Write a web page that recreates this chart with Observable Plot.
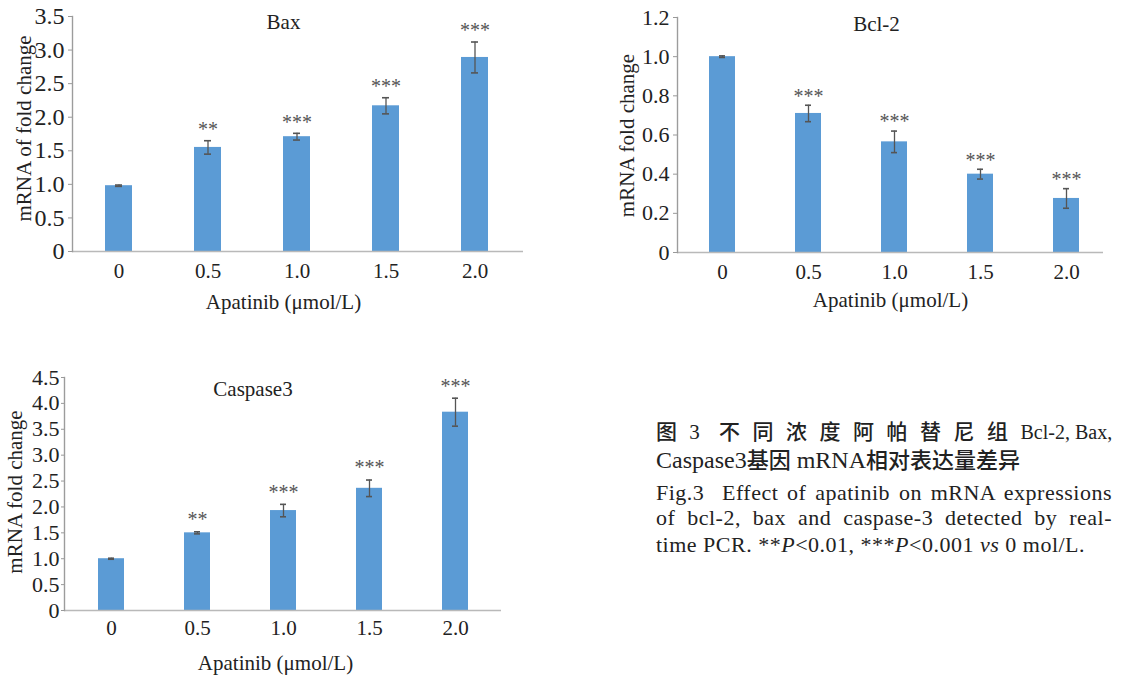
<!DOCTYPE html>
<html>
<head>
<meta charset="utf-8">
<script src="https://cdn.jsdelivr.net/npm/d3@7"></script>
<script src="https://cdn.jsdelivr.net/npm/@observablehq/plot@0.6"></script>
<style>
html, body { margin: 0; padding: 0; background: #fff; }
body { width: 1121px; height: 675px; position: relative; overflow: hidden; font-family: "Liberation Serif", "Times New Roman", serif; color: #222; }
.panel { position: absolute; }
.panel svg text { font-family: "Liberation Serif", "Times New Roman", serif; }
.cap { position: absolute; left: 656px; width: 456px; line-height: 1; white-space: nowrap; color: #222; }
.zh { font-family: "Noto Sans CJK SC", sans-serif; font-weight: 500; }
.ls { letter-spacing: 12.5px; }
.en { font-size: 22px; letter-spacing: 0.5px; }
.just { text-align: justify; text-align-last: justify; }
</style>
</head>
<body>
<div id="bax" class="panel" style="left:0;top:0"></div>
<div id="bcl" class="panel" style="left:580px;top:0"></div>
<div id="casp" class="panel" style="left:0;top:360px"></div>

<div class="cap" style="top:420px;font-size:21px;"><span class="zh" style="margin-right:7px">图</span> 3<span style="margin-right:14px"> </span><span class="zh ls">不同浓度阿帕替尼组</span><span style="font-size:20px">Bcl-2, Bax,</span></div>
<div class="cap" style="top:447px;font-size:24px;">Caspase3<span class="zh" style="font-size:22px">基因</span> mRNA<span class="zh" style="font-size:22px">相对表达量差异</span></div>
<div class="cap en just" style="top:482px;">Fig.3&nbsp; Effect of apatinib on mRNA expressions</div>
<div class="cap en just" style="top:507px;">of bcl-2, bax and caspase-3 detected by real-</div>
<div class="cap en" style="top:534px;">time PCR. **<i>P</i>&lt;0.01, ***<i>P</i>&lt;0.001 <i>vs</i> 0 mol/L.</div>

<script>
// ---- data ----
const doses = ["0", "0.5", "1.0", "1.5", "2.0"];

const baxMean = [0.98, 1.55, 1.71, 2.17, 2.89];
const baxErr  = [0.01, 0.10, 0.05, 0.12, 0.23];
const baxSig  = ["", "**", "***", "***", "***"];
const baxTicks = [0, 0.5, 1.0, 1.5, 2.0, 2.5, 3.0, 3.5];

const bclMean = [1.0, 0.71, 0.565, 0.40, 0.276];
const bclErr  = [0.004, 0.042, 0.055, 0.025, 0.05];
const bclSig  = ["", "***", "***", "***", "***"];
const bclTicks = [0, 0.2, 0.4, 0.6, 0.8, 1.0, 1.2];

const caspMean = [1.0, 1.50, 1.93, 2.36, 3.83];
const caspErr  = [0.01, 0.02, 0.12, 0.16, 0.27];
const caspSig  = ["", "**", "***", "***", "***"];
const caspTicks = [0, 0.5, 1.0, 1.5, 2.0, 2.5, 3.0, 3.5, 4.0, 4.5];

const xTitle = "Apatinib (μmol/L)";
const BLUE = "#5B9BD5";
const SERIF = '"Liberation Serif", "Times New Roman", serif';

function fmt(d) { return d === 0 ? "0" : d.toFixed(1); }

function panel(c) {
  const data = doses.map((d, i) => ({dose: d, v: c.mean[i], e: c.err[i], s: c.sig[i]}));
  return Plot.plot({
    width: c.width, height: c.height,
    marginLeft: c.mL, marginRight: c.mR, marginTop: c.mT, marginBottom: c.mB,
    style: 'font-family: "Liberation Serif", "Times New Roman", serif; background: transparent; color: #222; overflow: visible;',
    x: {domain: doses, paddingInner: 0.7, paddingOuter: c.po, align: c.align, label: null},
    y: {domain: [0, c.yMax], label: null},
    marks: [
      Plot.barY(data, {x: "dose", y: "v", fill: BLUE}),
      Plot.ruleY([0], {stroke: "#b9b9b9", strokeWidth: 1.6}),
      Plot.frame({anchor: "left", stroke: "#9c9c9c", strokeWidth: 1.4}),
      Plot.ruleX(data, {x: "dose", y1: d => d.v - d.e, y2: d => d.v + d.e, stroke: "#555", strokeWidth: 1.3}),
      Plot.tickY(data, {x: "dose", y: d => d.v + d.e, insetLeft: 10, insetRight: 10, stroke: "#555", strokeWidth: 1.6}),
      Plot.tickY(data, {x: "dose", y: d => d.v - d.e, insetLeft: 10, insetRight: 10, stroke: "#555", strokeWidth: 1.6}),
      Plot.text(data.filter(d => d.s), {x: "dose", y: d => d.v + d.e, text: "s", dy: c.starDy, fontSize: 20, fontFamily: SERIF, fill: "#555", lineAnchor: "middle"}),
      Plot.axisY({ticks: c.ticks, tickFormat: fmt, tickSize: c.tickSize, tickPadding: c.tickPad, fontSize: c.yFont, fontFamily: SERIF, stroke: "#999", fill: "#222", label: null}),
      Plot.axisX({tickSize: 0, tickPadding: c.xPad, fontSize: 21, fontFamily: SERIF, fill: "#222", label: null}),
      Plot.text([c.title], {frameAnchor: "top", textAnchor: "middle", lineAnchor: "middle", dx: c.tDx, dy: c.tDy, fontSize: 21, fontFamily: SERIF, fill: "#222"}),
      Plot.text([c.ylab], {frameAnchor: "left", textAnchor: "middle", lineAnchor: "middle", rotate: -90, dx: c.yDx, dy: c.yDy, fontSize: 21, fontFamily: SERIF, fill: "#222"}),
      Plot.text([xTitle], {frameAnchor: "bottom", textAnchor: "middle", lineAnchor: "middle", dx: c.xDx, dy: c.xDy, fontSize: 21, fontFamily: SERIF, fill: "#222"})
    ]
  });
}

document.getElementById("bax").append(panel({
  mean: baxMean, err: baxErr, sig: baxSig, ticks: baxTicks, yMax: 3.5,
  width: 545, height: 320, mL: 72, mR: 22, mT: 16, mB: 69,
  po: 0.37, align: 0.48, yFont: 24, tickSize: 4, tickPad: 4, xPad: 12,
  starDy: -11, title: "Bax", tDx: -14.5, tDy: 6,
  ylab: "mRNA of fold change", yDx: -48, yDy: -5.5, xDx: -14.5, xDy: 51
}));

document.getElementById("bcl").append(panel({
  mean: bclMean, err: bclErr, sig: bclSig, ticks: bclTicks, yMax: 1.2,
  width: 541, height: 320, mL: 97, mR: 18, mT: 17, mB: 68,
  po: 0.31, align: 0.57, yFont: 22, tickSize: 4, tickPad: 4, xPad: 12,
  starDy: -9, title: "Bcl-2", tDx: -14, tDy: 7,
  ylab: "mRNA fold change", yDx: -50, yDy: 0.5, xDx: 0, xDy: 48
}));

document.getElementById("casp").append(panel({
  mean: caspMean, err: caspErr, sig: caspSig, ticks: caspTicks, yMax: 4.5,
  width: 540, height: 315, mL: 64, mR: 39, mT: 17, mB: 65,
  po: 0.38, align: 0.5, yFont: 22, tickSize: 3, tickPad: 2, xPad: 10,
  starDy: -12, title: "Caspase3", tDx: -30, tDy: 12,
  ylab: "mRNA fold change", yDx: -49, yDy: -2, xDx: -7.5, xDy: 53
}));
</script>
</body>
</html>
